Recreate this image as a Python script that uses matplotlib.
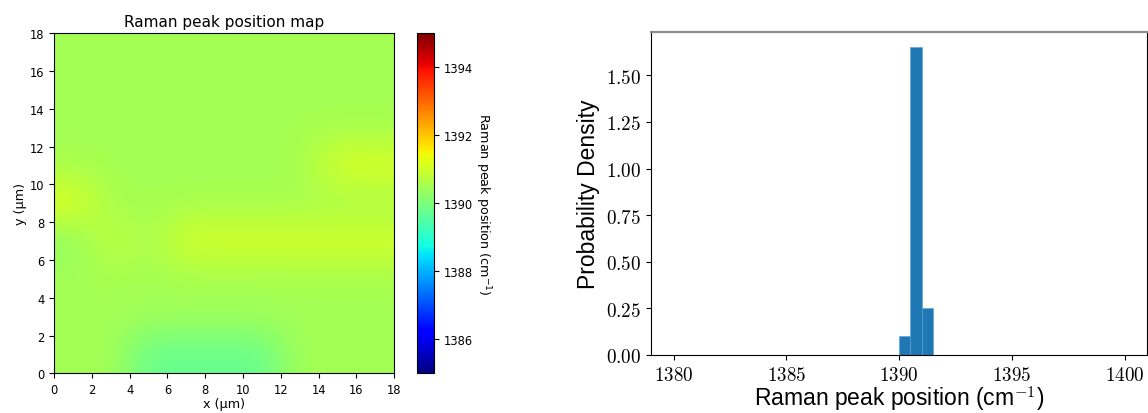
import numpy as np
import matplotlib
matplotlib.use("Agg")
import matplotlib.pyplot as plt
from matplotlib.ticker import FuncFormatter

plt.rcParams['mathtext.fontset'] = 'cm'

# peak position map, 9x9 points (x, y = 1, 3, ..., 17 um), rows from bottom
peak_map = np.array([
    [1390.5, 1390.5, 1389.75, 1389.75, 1389.75, 1389.75, 1390.5, 1390.5, 1390.5],
    [1390.5, 1390.5, 1390.45, 1390.45, 1390.45, 1390.45, 1390.5, 1390.5, 1390.5],
    [1390.5, 1390.5, 1390.5, 1390.5, 1390.5, 1390.5, 1390.5, 1390.5, 1390.5],
    [1390.2, 1390.9, 1390.5, 1391.1, 1391.1, 1391.1, 1391.1, 1391.1, 1391.1],
    [1391.25, 1390.5, 1390.5, 1390.5, 1390.5, 1390.5, 1390.5, 1390.5, 1390.5],
    [1390.5, 1390.5, 1390.5, 1390.5, 1390.5, 1390.5, 1390.5, 1391.15, 1391.15],
    [1390.5, 1390.5, 1390.5, 1390.5, 1390.5, 1390.5, 1390.5, 1390.5, 1390.5],
    [1390.5, 1390.5, 1390.5, 1390.5, 1390.5, 1390.5, 1390.5, 1390.5, 1390.5],
    [1390.5, 1390.5, 1390.5, 1390.5, 1390.5, 1390.5, 1390.5, 1390.5, 1390.5],
])
map_extent = [0, 18, 0, 18]
cbar_ticks = [1386, 1388, 1390, 1392, 1394]

# histogram (density), 0.5 cm-1 bins between 1380 and 1400
bin_centers = [1390.25, 1390.75, 1391.25]
bin_density = [0.10, 1.65, 0.25]

fig = plt.figure(figsize=(11.48, 4.14), dpi=100)

# ---- left: map
ax1 = fig.add_axes([0.0470, 0.0959, 0.2964, 0.8213])
cax = fig.add_axes([0.3630, 0.0959, 0.0153, 0.8213])
im = ax1.imshow(peak_map, origin='lower', extent=map_extent, cmap='jet',
                vmin=1385, vmax=1395, interpolation='bicubic', aspect='auto')
ax1.set_xticks(range(0, 19, 2))
ax1.set_yticks(range(0, 19, 2))
ax1.tick_params(labelsize=8.3)
ax1.set_title('Raman peak position map', fontsize=11, pad=5)
ax1.set_xlabel('x (µm)', fontsize=9.2, labelpad=1)
ax1.set_ylabel('y (µm)', fontsize=9.2, labelpad=2)
cb = fig.colorbar(im, cax=cax, ticks=cbar_ticks)
cb.ax.tick_params(labelsize=8.3)
cb.set_label('Raman peak position (cm$^{-1}$)', rotation=270, fontsize=9.2,
             labelpad=14, math_fontfamily='dejavusans')

# ---- right: histogram
ax2 = fig.add_axes([0.5671, 0.1401, 0.4321, 0.7802])
ax2.hist(bin_centers, bins=40, range=(1380, 1400), weights=bin_density,
         color='#1f77b4', edgecolor='#5b9fd0', linewidth=0.4)
ax2.set_xticks([1380, 1385, 1390, 1395, 1400])
ax2.set_yticks([0, 0.25, 0.5, 0.75, 1.0, 1.25, 1.5])
ax2.xaxis.set_major_formatter(FuncFormatter(lambda v, p: '$%d$' % v))
ax2.yaxis.set_major_formatter(FuncFormatter(lambda v, p: '$%.2f$' % v))
ax2.tick_params(labelsize=13.8)
ax2.spines['top'].set_color('0.55')
ax2.spines['top'].set_linewidth(1.6)
ax2.set_xlabel('Raman peak position (cm$^{-1}$)', fontsize=16.5,
               family='Liberation Sans', labelpad=0)
ax2.set_ylabel('Probability Density', fontsize=16.5,
               family='Liberation Sans', labelpad=4)

fig.savefig('out.png', dpi=100)
